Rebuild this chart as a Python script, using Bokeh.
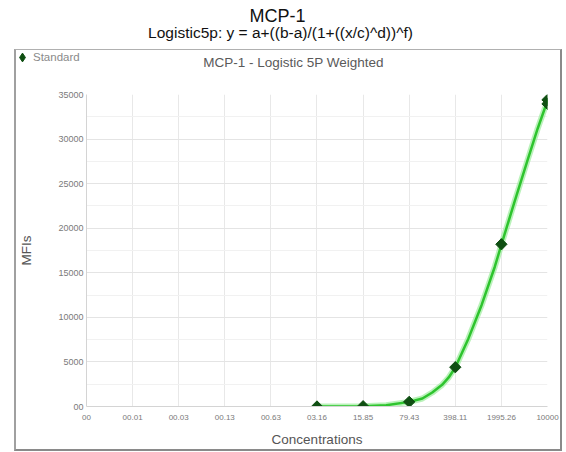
import math
from bokeh.plotting import figure
from bokeh.models import FixedTicker, Label, ColumnDataSource, Range1d, Legend, LegendItem
from bokeh.layouts import column
from bokeh.embed import file_html
from bokeh.resources import INLINE

# ---- data ----
std_conc = [3.16, 15.85, 79.43, 398.11, 1995.26, 10000.0, 10000.0]
std_mfi = [0, 30, 520, 4410, 18200, 34400, 33950]

curve_conc = [3.162, 7.079, 15.85, 35.48, 79.43, 125.9, 177.8, 251.2, 316.2, 398.1,
              631.0, 1000.0, 1584.9, 1995.3, 3162.3, 5011.9, 7079.5, 10000.0]
curve_mfi = [0, 5, 35, 150, 520, 900, 1570, 2430, 3260, 4380,
             7640, 11390, 15680, 18150, 22980, 27700, 31160, 34300]

x_ticks = [0.001, 0.00501, 0.0251, 0.1259, 0.631, 3.16, 15.85, 79.43, 398.11, 1995.26, 10000.0]
x_tick_labels = ["00", "00.01", "00.03", "00.13", "00.63", "03.16", "15.85", "79.43",
                 "398.11", "1995.26", "10000"]
y_ticks = [0, 5000, 10000, 15000, 20000, 25000, 30000, 35000]
y_tick_labels = ["00", "5000", "10000", "15000", "20000", "25000", "30000", "35000"]

main_title = "MCP-1"
sub_title = "Logistic5p: y = a+((b-a)/(1+((x/c)^d))^f)"
inner_title = "MCP-1 - Logistic 5P Weighted"
series_name = "Standard"

FONT = "Liberation Sans"
MARK = "#0f4f12"

# layout geometry (pixels)
W_PAGE = 566
TOP_H = 49
BOX_LEFT = 14
BOX_W = 544
HEAD_H = 38
CHART_H = 361
B_LEFT, B_RIGHT, B_TOP, B_BOTTOM = 70, 13, 6, 43


def plain(f):
    f.grid.visible = False
    f.outline_line_color = None
    f.background_fill_color = "white"
    f.border_fill_color = "white"
    return f


# ---- page titles (ranges in pixels, y downward) ----
top = plain(figure(width=W_PAGE, height=TOP_H, x_range=Range1d(0, W_PAGE),
                   y_range=Range1d(TOP_H, 0), x_axis_location=None, y_axis_location=None,
                   output_backend="svg", toolbar_location=None, min_border=0))
top.add_layout(Label(x=277, y=15, text=main_title, text_font=FONT, text_font_size="18px",
                     text_color="#111111", text_align="center", text_baseline="middle"))
top.add_layout(Label(x=280, y=32, text=sub_title, text_font=FONT, text_font_size="15.5px",
                     text_color="#111111", text_align="center", text_baseline="middle"))

# ---- header inside the box: legend + chart title (ranges in page pixels) ----
hx0 = BOX_LEFT + 2
hy0 = TOP_H + 1
head = plain(figure(width=BOX_W, height=HEAD_H, x_range=Range1d(hx0, hx0 + BOX_W),
                    y_range=Range1d(hy0 + HEAD_H, hy0),
                    x_axis_location=None, y_axis_location=None, output_backend="svg",
                    toolbar_location=None, min_border=0))
head.add_layout(Label(x=293, y=62, text=inner_title, text_font=FONT, text_font_size="13.5px",
                      text_color="#5a5a5a", text_align="center", text_baseline="middle"))
key = head.scatter(x=std_conc, y=std_mfi, marker="diamond", size=9,
                   fill_color=MARK, line_color=MARK, visible=False)
lg = Legend(items=[LegendItem(label=series_name, renderers=[key])], location=(-5, 20),
            border_line_color=None, background_fill_alpha=0, label_text_font=FONT,
            label_text_font_size="11.5px", label_text_color="#8a8a8a", glyph_width=22,
            glyph_height=22, label_height=12, label_standoff=0, padding=0, margin=0,
            spacing=0)
head.add_layout(lg)

# ---- the chart ----
p = figure(width=BOX_W, height=CHART_H, x_axis_type="log", output_backend="svg",
           toolbar_location=None,
           x_range=Range1d(0.001, 10000), y_range=Range1d(0, 35000),
           min_border_left=B_LEFT, min_border_right=B_RIGHT,
           min_border_top=B_TOP, min_border_bottom=B_BOTTOM)
p.outline_line_color = None
p.background_fill_color = "white"
p.border_fill_color = "white"

p.xaxis.ticker = FixedTicker(ticks=x_ticks)
p.xaxis.major_label_overrides = {t: l for t, l in zip(x_ticks, x_tick_labels)}
p.xaxis.major_label_text_align = "left"
p.yaxis.ticker = FixedTicker(ticks=y_ticks, minor_ticks=[v + 2500 for v in y_ticks[:-1]])
p.yaxis.major_label_overrides = {t: l for t, l in zip(y_ticks, y_tick_labels)}
for ax in (p.xaxis, p.yaxis):
    ax.major_tick_line_color = None
    ax.minor_tick_line_color = None
    ax.major_tick_out = 0
    ax.major_tick_in = 0
    ax.minor_tick_out = 0
    ax.minor_tick_in = 0
    ax.axis_line_color = "#d4d4d4"
    ax.major_label_text_font = FONT
    ax.major_label_text_color = "#7a7a7a"
    ax.axis_label_text_font = FONT
    ax.axis_label_text_font_style = "normal"
    ax.axis_label_text_color = "#555555"
    ax.axis_label_text_font_size = "13.5px"
p.xaxis.major_label_text_font_size = "8px"
p.yaxis.major_label_text_font_size = "9px"
p.xaxis.major_label_standoff = 8
p.yaxis.major_label_standoff = 3
p.xaxis.axis_label = "Concentrations"
p.yaxis.axis_label = "MFIs"
p.xaxis.axis_label_standoff = 9
p.yaxis.axis_label_standoff = 21

p.xgrid.grid_line_color = "#e8e8e8"
p.ygrid.grid_line_color = "#e4e4e4"
p.ygrid.minor_grid_line_color = "#f1f1f1"

p.line(curve_conc, curve_mfi, line_color="#a3eda3", line_width=6, line_alpha=0.75,
       line_join="round", line_cap="round")
p.line(curve_conc, curve_mfi, line_color="#2ec42e", line_width=2.5,
       line_join="round", line_cap="round")

src = ColumnDataSource(dict(x=std_conc, y=std_mfi))
p.scatter("x", "y", source=src, marker="square", angle=math.pi / 4, size=8,
          fill_color=MARK, line_color=MARK)

box = column(column(head), p, margin=(0, 0, 0, BOX_LEFT),
             styles={"border-style": "solid", "border-width": "1px 2px 2px 2px",
                     "border-color": "#b0b0b0 #8a8a8a #8a8a8a #a0a0a0"})
root = column(top, box)

open("out.html", "w").write(file_html(root, INLINE))
